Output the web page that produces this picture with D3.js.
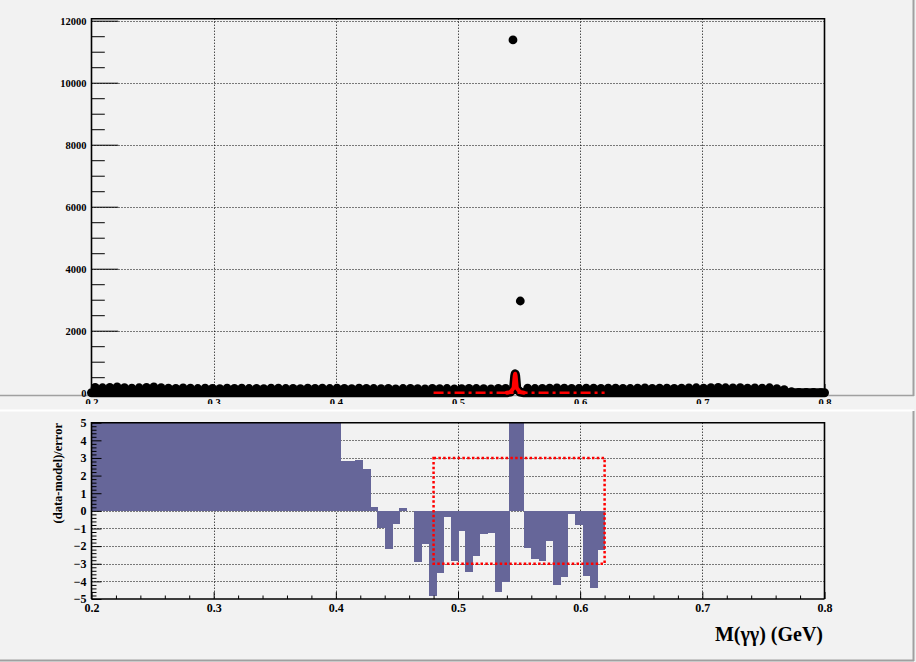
<!DOCTYPE html>
<html><head><meta charset="utf-8">
<script src="https://cdn.jsdelivr.net/npm/d3@7"></script>
<style>
html,body{margin:0;padding:0;background:#f2f2f2;}
svg{display:block;font-family:"Liberation Serif","Times New Roman",serif;font-weight:bold;}
</style>
</head><body>
<svg id="c" width="916" height="662"></svg>
<script>
// ---------------- data ----------------
const xMin = 0.2, xMax = 0.8, nBins = 100;
const counts = [
 175,160,170,185,165,150,160,175,190,165,
 150,140,155,145,135,150,140,130,145,140,
 150,135,140,130,145,150,135,140,130,145,
 140,150,135,145,140,130,150,140,135,130,
 140,125,135,140,130,125,140,130,135,125,
 130,140,135,130,125,140,140,11380,2958,150,
 135,140,150,155,145,140,135,150,145,140,
 150,145,140,135,150,155,140,145,150,140,
 145,155,160,150,165,170,160,155,165,150,
 155,145,160,130,100,30,10,8,6,5
];
const residuals = [
 5,5,5,5,5,5,5,5,5,5,
 5,5,5,5,5,5,5,5,5,5,
 5,5,5,5,5,5,5,5,5,5,
 5,5,5,5,2.85,2.85,2.9,2.4,0.2,-0.97,
 -2.16,-0.74,0.15,0,-2.9,-1.9,-4.83,-3.52,-0.36,-2.84,
 -1.16,-3.47,-2.56,-1.33,-1.27,-4.6,-4.03,5,5,-2.1,
 -2.73,-2.84,-1.72,-4.2,-3.75,-0.19,-0.8,-3.69,-4.38,-2.23,
 0,0,0,0,0,0,0,0,0,0,
 0,0,0,0,0,0,0,0,0,0,
 0,0,0,0,0,0,0,0,0,0
];
// total model curve (signal peak on flat ~0 background)
const modelX = [0.2, 0.540, 0.543, 0.5455, 0.5464, 0.5468, 0.5472, 0.5481, 0.5506, 0.554, 0.8];
const modelY = [0,   0,     20,    150,    540,    610,    540,    150,    20,     0,     0];
const peakRange = [0.536, 0.558];
// background component (dashed) over the fit window
const bkgX = [0.48, 0.62];
const bkgY = [0, 0];
// signal window box on residual pad
const boxX = [0.48, 0.62];
const boxY = [-3, 3];
const xTickVals = [0.2, 0.3, 0.4, 0.5, 0.6, 0.7, 0.8];
const topYTicks = [0, 2000, 4000, 6000, 8000, 10000, 12000];
const resYTicks = [-5, -4, -3, -2, -1, 0, 1, 2, 3, 4, 5];
const xTitle = "M(γγ) (GeV)";
const resTitle = "(data-model)/error";

// ---------------- layout ----------------
const svg = d3.select("#c");
const W = 916, H = 662;
const fL = 91.5, fR = 824.5;
const topP = {t: 18.7, b: 392.7};
const botP = {t: 422.7, b: 599};
const x = d3.scaleLinear().domain([xMin, xMax]).range([fL, fR]);
const yT = d3.scaleLinear().domain([0, 12065]).range([topP.b, topP.t]);
const yB = d3.scaleLinear().domain([-5, 5]).range([botP.b, botP.t]);
const bw = (xMax - xMin) / nBins;
const binLo = i => xMin + i * bw;
const binC = i => xMin + (i + 0.5) * bw;

// pad decorations
svg.append("rect").attr("width", W).attr("height", H).attr("fill", "#f2f2f2");
svg.append("line").attr("x1", 0).attr("x2", 914).attr("y1", 395.5).attr("y2", 395.5).attr("stroke", "#a0a0a0").attr("stroke-width", 1.5);
svg.append("line").attr("x1", 913.5).attr("x2", 913.5).attr("y1", 0).attr("y2", 396).attr("stroke", "#a0a0a0").attr("stroke-width", 2);
svg.append("line").attr("x1", 0).attr("x2", 914).attr("y1", 410.5).attr("y2", 410.5).attr("stroke", "#ffffff").attr("stroke-width", 2);
svg.append("line").attr("x1", 913.5).attr("x2", 913.5).attr("y1", 411).attr("y2", 661).attr("stroke", "#a0a0a0").attr("stroke-width", 2);
svg.append("line").attr("x1", 0).attr("x2", 914).attr("y1", 660.5).attr("y2", 660.5).attr("stroke", "#a0a0a0").attr("stroke-width", 2);

const crisp = v => Math.round(v) + 0.5;

// ---------- grids ----------
function grid(g, ys, yvals, yr) {
  yvals.forEach(v => {
    g.append("line").attr("x1", fL).attr("x2", fR).attr("y1", crisp(ys(v))).attr("y2", crisp(ys(v)))
      .attr("stroke", "#000").attr("stroke-width", 1).attr("stroke-dasharray", "1,2");
  });
  xTickVals.slice(1, -1).forEach(v => {
    g.append("line").attr("x1", crisp(x(v))).attr("x2", crisp(x(v))).attr("y1", yr[0]).attr("y2", yr[1])
      .attr("stroke", "#000").attr("stroke-width", 1).attr("stroke-dasharray", "1,2");
  });
}
const gTop = svg.append("g");
grid(gTop, yT, topYTicks.slice(1), [topP.t, topP.b]);
const gBot = svg.append("g");
grid(gBot, yB, resYTicks.slice(1, -1), [botP.t, botP.b]);

// ---------- residual bars ----------
gBot.append("g").selectAll("rect").data(residuals).join("rect")
  .attr("shape-rendering", "crispEdges")
  .attr("x", (d, i) => x(binLo(i)))
  .attr("width", (d, i) => x(binLo(i + 1)) - x(binLo(i)) + 0.5)
  .attr("y", d => yB(Math.min(5, Math.max(d, 0))))
  .attr("height", d => Math.abs(yB(Math.max(-5, Math.min(d, 0))) - yB(Math.min(5, Math.max(d, 0)))))
  .attr("fill", "#666699");

// box
svg.append("rect")
  .attr("x", x(boxX[0])).attr("y", yB(boxY[1]))
  .attr("width", x(boxX[1]) - x(boxX[0])).attr("height", yB(boxY[0]) - yB(boxY[1]))
  .attr("fill", "none").attr("stroke", "#ff0000").attr("stroke-width", 2.5).attr("stroke-dasharray", "2.5,2.3");

// ---------- axes helpers ----------
function styleAxis(g, fs) {
  g.select(".domain").remove();
  g.selectAll("line").attr("stroke", "#000").attr("stroke-width", 1);
  g.selectAll("text").attr("font-size", fs).attr("font-weight", "bold")
    .attr("font-family", "'Liberation Serif','Times New Roman',serif").attr("fill", "#000");
}
function minor(lo, hi, step, majors) {
  const out = [];
  const n = Math.round((hi - lo) / step);
  for (let k = 0; k <= n; k++) {
    const v = +(lo + k * step).toFixed(6);
    if (!majors.some(m => Math.abs(m - v) < 1e-9)) out.push(v);
  }
  return out;
}

// top y axis
const aTopY = svg.append("g").attr("transform", `translate(${fL},0)`)
  .call(d3.axisLeft(yT).tickValues(topYTicks).tickSize(-26.7).tickPadding(5).tickFormat(d3.format("d")));
styleAxis(aTopY, 10.5);
const aTopYm = svg.append("g").attr("transform", `translate(${fL},0)`)
  .call(d3.axisLeft(yT).tickValues(minor(0, 12000, 500, topYTicks)).tickSize(-13.3).tickFormat(""));
styleAxis(aTopYm, 10);

// top x axis ticks
const aTopX = svg.append("g").attr("transform", `translate(0,${topP.b + 1.3})`)
  .call(d3.axisBottom(x).tickValues(xTickVals).tickSize(-10).tickFormat(""));
styleAxis(aTopX, 10);
const aTopXm = svg.append("g").attr("transform", `translate(0,${topP.b + 1.3})`)
  .call(d3.axisBottom(x).tickValues(minor(0.2, 0.8, 0.02, xTickVals)).tickSize(-5).tickFormat(""));
styleAxis(aTopXm, 10);
// top x labels, partially hidden under the lower pad
svg.append("clipPath").attr("id", "lblclip").append("rect").attr("x", 0).attr("y", 396.5).attr("width", W).attr("height", 7.5);
const lblWrap = svg.append("g").attr("clip-path", "url(#lblclip)");
const aTopXl = lblWrap.append("g").attr("transform", `translate(0,${topP.b + 1.3})`)
  .call(d3.axisBottom(x).tickValues(xTickVals).tickSize(0).tickPadding(5).tickFormat(d3.format(".1f")));
styleAxis(aTopXl, 10.5);
aTopXl.selectAll("line").remove();

// bottom y axis
const aBotY = svg.append("g").attr("transform", `translate(${fL},0)`)
  .call(d3.axisLeft(yB).tickValues(resYTicks).tickSize(-10).tickPadding(5).tickFormat(d3.format("d")));
styleAxis(aBotY, 12);
const aBotYm = svg.append("g").attr("transform", `translate(${fL},0)`)
  .call(d3.axisLeft(yB).tickValues(minor(-5, 5, 0.2, resYTicks)).tickSize(-5).tickFormat(""));
styleAxis(aBotYm, 12);

// bottom x axis
const aBotX = svg.append("g").attr("transform", `translate(0,${botP.b})`)
  .call(d3.axisBottom(x).tickValues(xTickVals).tickSize(-7).tickPadding(4).tickFormat(d3.format(".1f")));
styleAxis(aBotX, 12);
const aBotXm = svg.append("g").attr("transform", `translate(0,${botP.b})`)
  .call(d3.axisBottom(x).tickValues(minor(0.2, 0.8, 0.02, xTickVals)).tickSize(-3.5).tickFormat(""));
styleAxis(aBotXm, 12);

// ---------- frames ----------
function frame(t, b) {
  svg.append("path").attr("d", `M${fL},${b}V${t}H${fR}V${b}`)
    .attr("fill", "none").attr("stroke", "#000").attr("stroke-width", 1.6);
}
frame(topP.t, topP.b + 1.3);
frame(botP.t, botP.b);
svg.append("line").attr("x1", fL).attr("x2", fR).attr("y1", botP.b).attr("y2", botP.b).attr("stroke", "#000").attr("stroke-width", 1.6);

// ---------- top data & model ----------
const modelPts = modelX.map((v, i) => [v, modelY[i]]);
const line = d3.line().x(d => x(d[0])).y(d => yT(d[1]));
svg.append("path").attr("d", line(modelPts)).attr("fill", "none").attr("stroke", "#000")
  .attr("stroke-width", 9).attr("stroke-linecap", "round").attr("stroke-linejoin", "round");
svg.append("g").selectAll("circle").data(counts).join("circle")
  .attr("cx", (d, i) => x(binC(i))).attr("cy", d => yT(d)).attr("r", 4.4).attr("fill", "#000");
const bkgPts = bkgX.map((v, i) => [v, bkgY[i]]);
svg.append("path").attr("d", line(bkgPts)).attr("fill", "none").attr("stroke", "#ff0000")
  .attr("stroke-width", 2.5).attr("stroke-dasharray", "10,4,3,4");
const peakPts = modelPts.filter(d => d[0] >= peakRange[0] && d[0] <= peakRange[1]);
svg.append("path").attr("d", line(peakPts)).attr("fill", "none").attr("stroke", "#ff0000")
  .attr("stroke-width", 4).attr("stroke-linecap", "round").attr("stroke-linejoin", "round");

// ---------- titles ----------
svg.append("text").attr("x", 823).attr("y", 641).attr("text-anchor", "end")
  .attr("font-size", 20).attr("font-weight", "bold").text(xTitle);
svg.append("text").attr("transform", "translate(62,423) rotate(-90)").attr("text-anchor", "end")
  .attr("font-size", 12.5).attr("font-weight", "bold").text(resTitle);
</script>
</body></html>
